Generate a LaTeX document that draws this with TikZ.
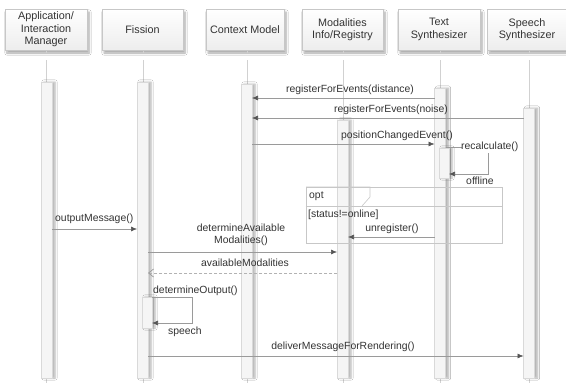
\documentclass[tikz,border=0pt]{standalone}
\usepackage{fontspec}
\setmainfont{Liberation Sans}
\usetikzlibrary{shadows,shadows.blur,arrows.meta}
\definecolor{txt}{HTML}{333333}
\definecolor{ln}{HTML}{9A9A9A}
\definecolor{hd}{HTML}{555555}
\tikzset{
  x=1pt, y=-1pt,
  head/.style={draw=black!22, top color=white, bottom color=black!7, text=txt,
    font=\fontsize{10.8}{12.5}\selectfont, align=center, inner sep=1pt,
    blur shadow={shadow xshift=2pt, shadow yshift=-3pt, shadow blur steps=6, shadow opacity=35}},
  life/.style={draw=black!18, line width=0.8pt},
  bar/.style={draw=black!15, fill=black!4,
    blur shadow={shadow xshift=3pt, shadow yshift=0pt, shadow blur steps=5, shadow opacity=30}},
  msg/.style={draw=ln, line width=0.6pt, -{Latex[length=6pt,width=5pt,color=hd]}},
  ret/.style={draw=black!30, line width=0.6pt, dash pattern=on 3pt off 2pt, -{Straight Barb[length=5pt,width=8pt,color=black!40,line width=0.7pt]}},
  lbl/.style={text=txt, font=\fontsize{10.4}{12}\selectfont, inner sep=0pt, align=center},
  frm/.style={draw=black!22, line width=0.6pt},
}
\begin{document}
\begin{tikzpicture}
\useasboundingbox[fill=white] (0,0) rectangle (566,383);

% header boxes
\node[head, minimum width=82pt, minimum height=41pt] (hA) at (46,29.5) {Application/\\Interaction\\Manager};
\node[head, minimum width=81pt, minimum height=41pt] (hF) at (142.5,29.5) {Fission};
\node[head, minimum width=78pt, minimum height=41pt] (hC) at (245,29.5) {Context Model};
\node[head, minimum width=81pt, minimum height=41pt] (hR) at (342.5,29.5) {Modalities\\Info/Registry};
\node[head, minimum width=82pt, minimum height=41pt] (hT) at (439,29.5) {Text\\Synthesizer};
\node[head, minimum width=79pt, minimum height=41pt] (hS) at (527,29.5) {Speech\\Synthesizer};

% lifelines
\foreach \n/\x in {A/46,F/143,C/247,R/343,T/440,S/529}{
  \coordinate (lt\n) at (\x,60);
  \coordinate (lb\n) at (\x,383);
  \draw[life] (\x,51) -- (\x,53);
  \draw[life] (lt\n) -- (lb\n);
}

% activation bars
\node[bar, minimum width=11pt, minimum height=296pt, inner sep=0pt] (bA) at (46.5,230) {};
\node[bar, minimum width=11pt, minimum height=296pt, inner sep=0pt] (bF) at (142.5,230) {};
\node[bar, minimum width=11pt, minimum height=294pt, inner sep=0pt] (bC) at (246.5,231) {};
\node[bar, minimum width=11pt, minimum height=258pt, inner sep=0pt] (bR) at (342.5,249) {};
\node[bar, minimum width=11pt, minimum height=290pt, inner sep=0pt] (bT) at (440,233) {};
\node[bar, minimum width=11pt, minimum height=270pt, inner sep=0pt] (bS) at (529,243) {};
\node[bar, minimum width=10pt, minimum height=30pt, inner sep=0pt] (bT2) at (444,163) {};
\node[bar, minimum width=10pt, minimum height=31pt, inner sep=0pt] (bF2) at (147,312.5) {};

% opt frame
\node[inner sep=0pt, minimum width=196pt, minimum height=56pt, frm] (opt) at (404,215) {};
\draw[frm] (306,187) -- (370,187) -- (370,197) -- (362,206);
\draw[frm] (opt.west |- 0,206) -- (opt.east |- 0,206);
\node[lbl, anchor=west] (optl) at (309,196.5) {opt};
\node[lbl, anchor=west] (guard) at (308,215) {[status!=online]};

% messages
\coordinate (m1a) at (434.5,98);  \coordinate (m1b) at (252,98);
\draw[msg] (m1a) -- (m1b);
\node[lbl] (l1) at (350,90) {registerForEvents(distance)};

\coordinate (m2a) at (523.5,118);  \coordinate (m2b) at (252,118);
\draw[msg] (m2a) -- (m2b);
\node[lbl] (l2) at (391,110) {registerForEvents(noise)};

\coordinate (m3a) at (252,144);  \coordinate (m3b) at (434.5,144);
\draw[msg] (m3a) -- (m3b);
\node[lbl] (l3) at (397,136) {positionChangedEvent()};

% recalculate self message
\coordinate (r1) at (445.5,147);
\coordinate (r2) at (462,147);
\coordinate (r3) at (488,153);
\coordinate (r4) at (488,174);
\coordinate (r5) at (449,174);
\draw[draw=ln, line width=0.6pt] (r1) -- (r2);
\draw[msg] (r3) -- (r4) -- (r5);
\node[lbl, anchor=west] (l4) at (461,147) {recalculate()};
\node[lbl] (l5) at (480,181) {offline};

\coordinate (m5a) at (434.5,237);  \coordinate (m5b) at (348,237);
\draw[msg] (m5a) -- (m5b);
\node[lbl] (l6) at (392,229) {unregister()};

\coordinate (m6a) at (52,229);  \coordinate (m6b) at (137,229);
\draw[msg] (m6a) -- (m6b);
\node[lbl, anchor=west] (l7) at (55,219) {outputMessage()};

\coordinate (m7a) at (148,252);  \coordinate (m7b) at (337,252);
\draw[msg] (m7a) -- (m7b);
\node[lbl] (l8) at (241,235) {determineAvailable\\Modalities()};

\coordinate (m8a) at (337,273);  \coordinate (m8b) at (148,273);
\draw[ret] (m8a) -- (m8b);
\node[lbl] (l9) at (245,263) {availableModalities};

% determineOutput self message
\coordinate (d1) at (152,297);
\coordinate (d2) at (192,297);
\coordinate (d3) at (192,323);
\coordinate (d4) at (152,323);
\draw[msg] (d1) -- (d2) -- (d3) -- (d4);
\node[lbl, anchor=west] (l10) at (153,291) {determineOutput()};
\node[lbl, anchor=west] (l11) at (168,332) {speech};

\coordinate (m9a) at (148,356);  \coordinate (m9b) at (523.5,356);
\draw[msg] (m9a) -- (m9b);
\node[lbl] (l12) at (343,347) {deliverMessageForRendering()};
\end{tikzpicture}
\end{document}
